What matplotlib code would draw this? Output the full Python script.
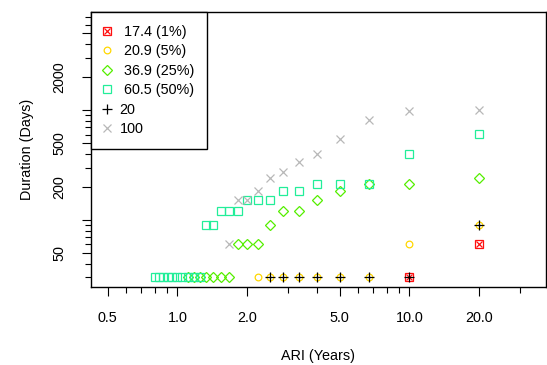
import matplotlib
matplotlib.use("Agg")
import matplotlib.pyplot as plt
from matplotlib.legend_handler import HandlerTuple

plt.rcParams['font.family'] = ['Liberation Sans', 'DejaVu Sans']

# ARI (years) by rank, read from the x positions
ari = [20, 10, 6.67, 5, 4, 3.33, 2.86, 2.5, 2.22, 2.0, 1.82, 1.67, 1.54,
       1.43, 1.33, 1.25, 1.18, 1.11, 1.05, 1.0, 0.95, 0.91, 0.87, 0.83, 0.8]

# Durations (days) per series, ranked
dur_17_4 = [61, 30]
dur_20_9 = [91, 61, 30, 30, 30, 30, 30, 30, 30]
dur_36_9 = [243, 213, 213, 183, 152, 122, 122, 91, 61, 61, 61,
            30, 30, 30, 30, 30, 30, 30]
dur_60_5 = [609, 396, 213, 213, 213, 183, 183, 152, 152, 152, 122, 122, 122,
            91, 91, 30, 30, 30, 30, 30, 30, 30, 30, 30, 30]
dur_20 = [91, 30, 30, 30, 30, 30, 30, 30]
dur_100 = [1004, 974, 822, 548, 396, 335, 274, 243, 183, 152, 152, 61]

labels = [" 17.4 (1%)", " 20.9 (5%)", " 36.9 (25%)", " 60.5 (50%)", "20", "100"]

x_major = [0.5, 1, 2, 5, 10, 20]
x_major_labels = ["0.5", "1.0", "2.0", "5.0", "10.0", "20.0"]
x_minor = [0.6, 0.7, 0.8, 0.9, 3, 4, 6, 7, 8, 9, 30]
y_major = [50, 100, 200, 500, 1000, 2000, 5000]
y_major_labels = ["50", "", "200", "500", "", "2000", ""]
y_minor = [30, 40, 60, 70, 80, 90, 300, 400, 600, 700, 800, 900,
           3000, 4000, 6000, 7000]

W, H = 547, 365
fig = plt.figure(figsize=(W / 100, H / 100), dpi=100)
ax = fig.add_axes([90.7 / W, 1 - 286.7 / H, (545.7 - 90.7) / W, (286.7 - 11.7) / H])
ax.set_xscale('log')
ax.set_yscale('log')
ax.set_xlim(0.423, 38.7)
ax.set_ylim(24.7, 7890)

c_red = "#FF1010"
c_yel = "#FFD700"
c_grn = "#55EE00"
c_cyn = "#22EE99"
c_blk = "#000000"
c_gry = "#B8B8B8"
mew = 0.9

h1 = ax.plot(ari[:len(dur_17_4)], dur_17_4, ls='none', marker='s', ms=5.4,
             mfc='none', mec=c_red, mew=mew)[0]
h1b = ax.plot(ari[:len(dur_17_4)], dur_17_4, ls='none', marker='x', ms=5.0,
              mec=c_red, mew=mew)[0]
h2 = ax.plot(ari[:len(dur_20_9)], dur_20_9, ls='none', marker='o', ms=4.8,
             mfc='none', mec=c_yel, mew=mew)[0]
h3 = ax.plot(ari[:len(dur_36_9)], dur_36_9, ls='none', marker='D', ms=5.4,
             mfc='none', mec=c_grn, mew=mew)[0]
h4 = ax.plot(ari[:len(dur_60_5)], dur_60_5, ls='none', marker='s', ms=5.4,
             mfc='none', mec=c_cyn, mew=mew)[0]
h5 = ax.plot(ari[:len(dur_20)], dur_20, ls='none', marker='+', ms=7.0,
             mec=c_blk, mew=mew)[0]
h6 = ax.plot(ari[:len(dur_100)], dur_100, ls='none', marker='x', ms=5.6,
             mec=c_gry, mew=mew)[0]

ax.set_xticks(x_major)
ax.set_xticklabels(x_major_labels)
ax.set_xticks(x_minor, minor=True)
ax.set_xticklabels([""] * len(x_minor), minor=True)
ax.set_yticks(y_major)
ax.set_yticklabels(y_major_labels, rotation=90, va='center')
ax.set_yticks(y_minor, minor=True)
ax.set_yticklabels([""] * len(y_minor), minor=True)

ax.tick_params(which='major', length=6.8, width=0.8, labelsize=10.4, pad=10.5)
ax.tick_params(which='minor', length=4.1, width=0.8)
for s in ax.spines.values():
    s.set_linewidth(1.0)

fig.text(318.2 / W, 1 - 356 / H, "ARI (Years)", ha='center', va='center', fontsize=10.4)
fig.text(26.7 / W, 1 - 149.2 / H, "Duration (Days)", ha='center', va='center',
         rotation=90, fontsize=10.4)

leg = ax.legend([(h1, h1b), h2, h3, h4, h5, h6], labels,
                handler_map={tuple: HandlerTuple(ndivide=1, pad=0)},
                loc='upper left', bbox_to_anchor=(0, 1), borderaxespad=0,
                fontsize=10.4, frameon=True, fancybox=False, framealpha=1,
                edgecolor='black', borderpad=0.9, handlelength=0.5,
                handletextpad=0.6, labelspacing=0.38)
leg.get_frame().set_linewidth(1.0)

fig.savefig("out.png", dpi=100)
